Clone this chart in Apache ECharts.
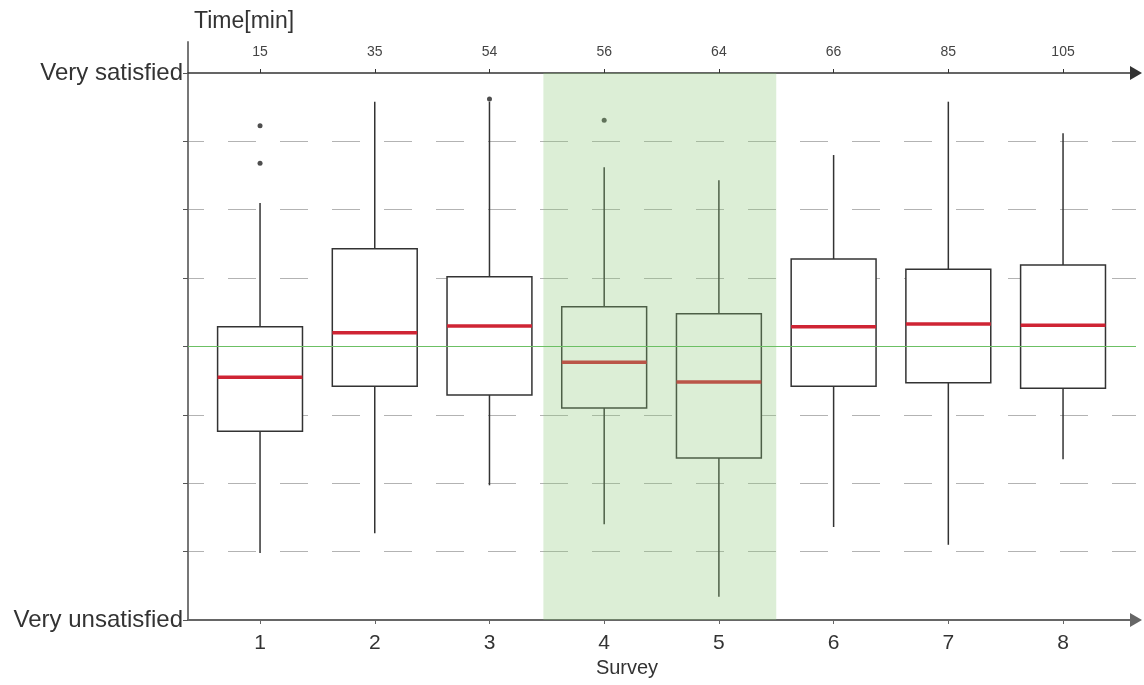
<!DOCTYPE html>
<html>
<head>
    <meta charset="utf-8">
    <title>Survey satisfaction</title>
    <script type="text/javascript" src="https://cdn.jsdelivr.net/npm/echarts@6/dist/echarts.min.js"></script>
    <style>
        html, body { margin: 0; padding: 0; background: #fff; }
        #root { width: 1144px; height: 685px; }
    </style>
</head>
<body>
<div id="root"></div>
<script type="text/javascript">
// survey number and the time (min) at which it was taken
var surveys = [1, 2, 3, 4, 5, 6, 7, 8];
var times = [15, 35, 54, 56, 64, 66, 85, 105];

// box statistics, scale -4 (very unsatisfied) .. 4 (very satisfied)
var lowWhisker  = [-3.02, -2.73, -2.03, -2.60, -3.66, -2.64, -2.90, -1.65];
var q1          = [-1.24, -0.58, -0.71, -0.90, -1.63, -0.58, -0.53, -0.61];
var median      = [-0.45,  0.20,  0.30, -0.23, -0.52,  0.29,  0.33,  0.31];
var q3          = [ 0.29,  1.43,  1.02,  0.58,  0.48,  1.28,  1.13,  1.19];
var highWhisker = [ 2.10,  3.58,  3.58,  2.62,  2.43,  2.80,  3.58,  3.12];

// outliers
var outlierX = [1, 1, 3, 4];
var outlierY = [3.23, 2.68, 3.62, 3.31];

var yEndLabels = ['Very unsatisfied', 'Very satisfied'];
var highlight = [3.47, 5.5];

var boxData = surveys.map(function(s, i) {
    return [s, lowWhisker[i], q1[i], median[i], q3[i], highWhisker[i]];
});
var outlierData = outlierX.map(function(x, i) { return [x, outlierY[i]]; });

var font = "'Liberation Sans', Arial, sans-serif";

function renderBox(params, api) {
    var x = api.value(0);
    var w = api.size([0.74, 0])[0];
    var lo = api.coord([x, api.value(1)]);
    var b1 = api.coord([x, api.value(2)]);
    var md = api.coord([x, api.value(3)]);
    var b3 = api.coord([x, api.value(4)]);
    var hi = api.coord([x, api.value(5)]);
    var cx = lo[0];
    var stroke = {stroke: '#333', lineWidth: 1.5};
    return {
        type: 'group',
        children: [
            {type: 'line', shape: {x1: cx, y1: hi[1], x2: cx, y2: b3[1]}, style: stroke},
            {type: 'line', shape: {x1: cx, y1: b1[1], x2: cx, y2: lo[1]}, style: stroke},
            {type: 'rect', shape: {x: cx - w / 2, y: b3[1], width: w, height: b1[1] - b3[1]},
                style: {fill: '#fff', stroke: '#333', lineWidth: 1.5}},
            {type: 'line', shape: {x1: cx - w / 2, y1: md[1], x2: cx + w / 2, y2: md[1]},
                style: {stroke: '#cf2434', lineWidth: 3.5}}
        ]
    };
}

var myChart = echarts.init(document.getElementById('root'));
var xMin = 0.372, xMax = 8.636;

option = {
    animation: false,
    textStyle: {fontFamily: font},
    title: {
        text: 'Time[min]',
        left: 189,
        top: 5,
        textStyle: {fontFamily: font, fontSize: 23, fontWeight: 'normal', color: '#333'}
    },
    grid: {left: 188, right: 8, top: 42, bottom: 65},
    xAxis: [{
        type: 'value',
        position: 'bottom',
        min: xMin,
        max: xMax,
        name: 'Survey',
        nameLocation: 'middle',
        nameGap: 37,
        nameTextStyle: {fontSize: 20, color: '#333', padding: [0, 70, 0, 0]},
        axisLine: {show: true, onZero: false, symbol: ['none', 'triangle'], symbolSize: [14, 12],
            lineStyle: {color: '#666', width: 2}},
        axisTick: {show: true, length: 4, customValues: surveys, lineStyle: {color: '#666'}},
        axisLabel: {customValues: surveys, fontSize: 21, color: '#333', margin: 13},
        splitLine: {show: false}
    }, {
        type: 'value',
        position: 'top',
        offset: -31,
        min: xMin,
        max: xMax,
        axisLine: {show: true, onZero: false, symbol: ['none', 'triangle'], symbolSize: [14, 12],
            lineStyle: {color: '#333', width: 1.5}},
        axisTick: {show: true, length: 4, customValues: surveys, lineStyle: {color: '#333'}},
        axisLabel: {
            customValues: surveys, fontSize: 14, color: '#444', margin: 14,
            formatter: function(v) { return times[surveys.indexOf(v)]; }
        },
        splitLine: {show: false}
    }],
    yAxis: {
        type: 'value',
        min: -4,
        max: 4.453,
        axisLine: {show: true, onZero: false, lineStyle: {color: '#777', width: 2}},
        axisTick: {show: true, length: 5, customValues: [-4, -3, -2, -1, 0, 1, 2, 3, 4],
            lineStyle: {color: '#555'}},
        axisLabel: {
            customValues: [-4, 4], fontSize: 24, color: '#333', margin: 5,
            formatter: function(v) { return v > 0 ? yEndLabels[1] : yEndLabels[0]; }
        },
        splitLine: {
            show: true, showMinLine: false, showMaxLine: false,
            lineStyle: {color: '#b3b3b3', width: 1.2, type: [28, 24], dashOffset: 12}
        }
    },
    series: [{
        type: 'custom',
        name: 'boxes',
        renderItem: renderBox,
        encode: {x: 0, y: [1, 2, 3, 4, 5]},
        data: boxData,
        z: 2,
        markArea: {
            silent: true,
            z: 4,
            itemStyle: {color: 'rgba(140, 200, 120, 0.3)'},
            data: [[{xAxis: highlight[0], yAxis: -4}, {xAxis: highlight[1], yAxis: 4}]]
        },
        markLine: {
            silent: true,
            symbol: 'none',
            label: {show: false},
            lineStyle: {color: '#6cc064', width: 1.2, type: 'solid'},
            data: [{yAxis: 0}]
        }
    }, {
        type: 'scatter',
        name: 'outliers',
        data: outlierData,
        symbol: 'circle',
        symbolSize: 5,
        itemStyle: {color: '#222'},
        z: 3
    }]
};
myChart.setOption(option, true);
</script>
</body>
</html>
